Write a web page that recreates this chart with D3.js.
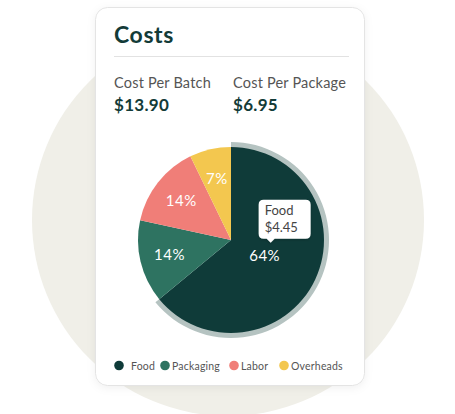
<!DOCTYPE html>
<html><head><meta charset="utf-8">
<script src="https://cdn.jsdelivr.net/npm/d3@7"></script>
<style>
html,body{margin:0;padding:0;background:#fff;}
svg{display:block;font-family:Lato, "Open Sans", sans-serif;}
</style></head>
<body><svg id="chart" width="455" height="414"></svg>
<script>
const categories = ["Food", "Packaging", "Labor", "Overheads"];
const costs = [4.45, 1.00, 1.00, 0.50];
const colors = ["#0f3b39", "#2e7361", "#f07e78", "#f3c74f"];
const summaryLabels = ["Cost Per Batch", "Cost Per Package"];
const summaryValues = ["$13.90", "$6.95"];
const highlighted = "Food";

const svg = d3.select("#chart");
const defs = svg.append("defs");
const f = defs.append("filter").attr("id","sh").attr("x","-20%").attr("y","-20%").attr("width","140%").attr("height","140%");
f.append("feDropShadow").attr("dx",0).attr("dy",2).attr("stdDeviation",4).attr("flood-color","#000").attr("flood-opacity",0.06);
const f2 = defs.append("filter").attr("id","tt").attr("x","-30%").attr("y","-30%").attr("width","160%").attr("height","160%");
f2.append("feDropShadow").attr("dx",0).attr("dy",1).attr("stdDeviation",1.5).attr("flood-color","#000").attr("flood-opacity",0.2);

// background circle
svg.append("circle").attr("cx",228).attr("cy",220).attr("r",196).attr("fill","#f0efe8");

// card
svg.append("rect").attr("x",95.5).attr("y",7.5).attr("width",269).attr("height",378).attr("rx",12)
  .attr("fill","#fff").attr("stroke","#e4e4e4").attr("filter","url(#sh)");

svg.append("text").attr("x",114).attr("y",43).text("Costs")
  .attr("font-size",23).attr("letter-spacing",0.6).attr("font-weight",700).attr("fill","#133b38");
svg.append("line").attr("x1",114).attr("x2",349).attr("y1",56.5).attr("y2",56.5).attr("stroke","#e2e2e2");

const sx = [114, 233];
summaryLabels.forEach((l,i)=>{
  svg.append("text").attr("x",sx[i]).attr("y",88).text(l).attr("font-size",14.5).attr("letter-spacing",0.2).attr("fill","#555");
  svg.append("text").attr("x",sx[i]).attr("y",111).text(summaryValues[i]).attr("font-size",17).attr("letter-spacing",0.3).attr("font-weight",700).attr("fill","#133b38");
});

// pie
const cx = 231, cy = 240, R = 93;
const total = d3.sum(costs);
const data = categories.map((c,i)=>({cat:c, value:costs[i], color:colors[i]}));
const pie = d3.pie().sort(null).value(d=>d.value);
const arcs = pie(data);
const arc = d3.arc().innerRadius(0).outerRadius(R);
const g = svg.append("g").attr("transform",`translate(${cx},${cy})`);

arcs.forEach(a=>{
  if(a.data.cat===highlighted){
    g.append("path").attr("d", d3.arc().innerRadius(R-2).outerRadius(R+5)(a)).attr("fill","#b5c3c1");
  }
});
g.selectAll("path.slice").data(arcs).join("path").attr("class","slice")
  .attr("d",arc).attr("fill",d=>d.data.color);

const labelArc = d3.arc().innerRadius(R*0.68).outerRadius(R*0.68);
const hlArc = d3.arc().innerRadius(R*0.4).outerRadius(R*0.4);
g.selectAll("text.pct").data(arcs).join("text").attr("class","pct")
  .attr("transform",d=>{const p=(d.data.cat===highlighted?hlArc:labelArc).centroid(d);return `translate(${p})`;})
  .attr("text-anchor","middle").attr("dy","0.36em")
  .attr("font-size",15).attr("letter-spacing",0.5).attr("fill","#fff")
  .text(d=>Math.round(d.data.value/total*100)+"%");

// tooltip
const hl = arcs.find(a=>a.data.cat===highlighted);
const hp = hlArc.centroid(hl);
const tx = cx + hp[0] + 6, ty = cy + hp[1] - 13;
const tg = svg.append("g").attr("filter","url(#tt)");
const bw = 52, bh = 39, bx = tx - 12, by = ty - 4 - bh;
tg.append("path").attr("d",
  `M${bx+5},${by} H${bx+bw-5} Q${bx+bw},${by} ${bx+bw},${by+5} V${by+bh-5} Q${bx+bw},${by+bh} ${bx+bw-5},${by+bh} H${tx+4} L${tx},${ty} L${tx-4},${by+bh} H${bx+5} Q${bx},${by+bh} ${bx},${by+bh-5} V${by+5} Q${bx},${by} ${bx+5},${by} Z`)
  .attr("fill","#fff");
svg.append("text").attr("x",bx+6).attr("y",by+15).text(hl.data.cat).attr("font-size",13).attr("fill","#444");
svg.append("text").attr("x",bx+6).attr("y",by+32).text("$"+hl.data.value.toFixed(2)).attr("font-size",13).attr("fill","#444");

// legend
const lx = [119, 165, 234, 284];
const lg = svg.append("g");
data.forEach((d,i)=>{
  lg.append("circle").attr("cx",lx[i]).attr("cy",365.5).attr("r",4.8).attr("fill",d.color);
  lg.append("text").attr("x",lx[i]+12 - (i===0?0:5)).attr("y",369.5).text(d.cat).attr("font-size",10.5).attr("letter-spacing",0.2).attr("fill","#555");
});
</script></body></html>
